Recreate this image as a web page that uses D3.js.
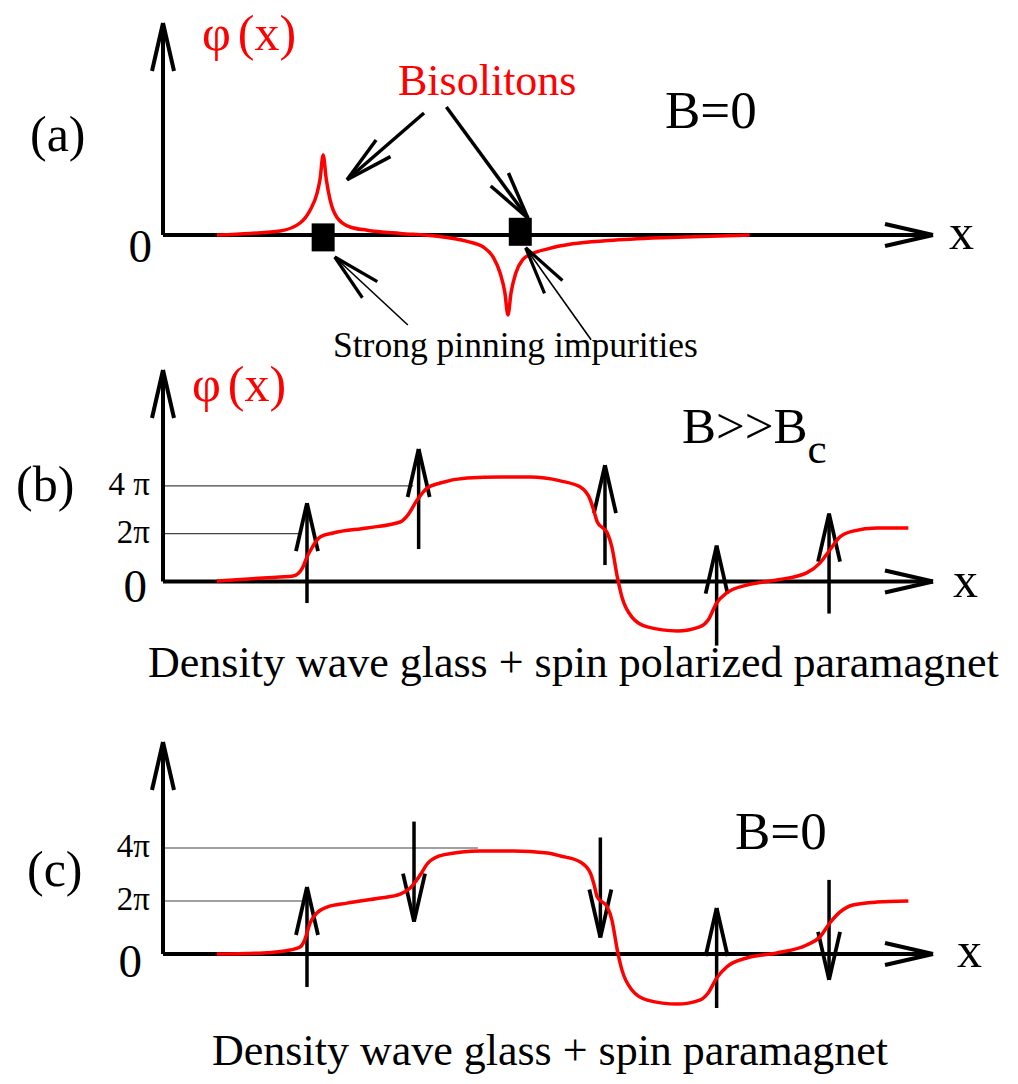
<!DOCTYPE html>
<html><head><meta charset="utf-8">
<script src="https://cdn.jsdelivr.net/npm/d3@7"></script>
<style>
html,body{margin:0;padding:0;background:#fff;}
svg{display:block;background:#fff;}
text{font-family:"Liberation Serif","Times New Roman",Times,serif;}
</style></head><body>
<svg id="chart" width="1018" height="1084"></svg>
<script>
// ================= DATA =================
// position along the x axis (0..100); phi in arbitrary units (a) or in units of pi (b, c)
const xDomain = [0, 100];

const curveA = [[7.0,0],[11.3,0.02],[15.2,0.05],[17.8,0.15],[19.1,0.31],[20.0,0.52],[20.4,0.70],[20.8,1.0],
  [21.2,0.70],[21.7,0.44],[22.6,0.22],[24.3,0.10],[26.5,0.06],[30.8,0.02],[35.1,-0.01],[39.5,-0.08],
  [41.6,-0.15],[42.9,-0.28],[43.8,-0.48],[44.4,-0.72],[44.8,-1.0],[45.2,-0.72],[45.8,-0.48],[46.8,-0.30],
  [47.8,-0.24],[50.1,-0.17],[53.2,-0.11],[57.9,-0.07],[64.8,-0.035],[71.0,-0.015],[76.2,0]];

const curveB = [[7.0,0.02],[13.0,0.15],[16.9,0.23],[18.1,0.56],[18.7,1.03],[19.4,1.44],[20.4,1.86],[22.1,2.03],
  [26.5,2.24],[30.8,2.49],[31.8,2.78],[33.0,3.41],[34.3,3.91],[36.0,4.12],[39.5,4.33],[43.8,4.37],[47.7,4.37],
  [51.6,4.21],[54.2,3.95],[55.5,3.41],[56.0,2.91],[56.4,2.49],[57.7,2.03],[58.3,1.44],[59.0,0.19],[59.6,-0.65],
  [60.9,-1.49],[62.9,-1.90],[66.8,-2.07],[69.7,-1.90],[70.8,-1.61],[71.9,-0.90],[73.2,-0.48],[75.8,-0.15],
  [79.7,0.06],[83.6,0.36],[85.3,0.77],[86.6,1.32],[87.9,1.86],[89.6,2.11],[92.7,2.24],[96.8,2.24]];

const curveC = [[7.0,0],[13.0,0.04],[16.5,0.15],[17.8,0.26],[18.4,0.53],[19.1,1.17],[20.0,1.55],[21.3,1.77],
  [23.9,1.92],[28.2,2.11],[30.8,2.26],[32.1,2.49],[33.4,2.98],[34.4,3.43],[36.4,3.74],[41.2,3.89],[45.5,3.89],
  [49.9,3.81],[51.6,3.70],[54.2,3.47],[55.5,3.06],[56.0,2.60],[56.4,2.15],[57.7,1.77],[58.3,1.28],[59.0,0.15],
  [59.6,-0.60],[60.9,-1.36],[62.9,-1.74],[66.8,-1.89],[69.7,-1.74],[70.8,-1.47],[71.9,-0.91],[73.2,-0.49],
  [75.8,-0.15],[79.7,0.04],[83.6,0.34],[85.3,0.64],[86.6,1.17],[87.9,1.58],[89.6,1.85],[92.7,1.96],[96.8,2.0]];

// strong pinning impurities (panel a)
const pinsA = [[20.8,-0.03],[46.4,0.04]];
// annotation arrows [from, to]
const bisolitonArrows = [[[33.9,1.525],[23.9,0.69]], [[36.8,1.6],[47.4,0.21]]];
const pinArrows = [[[31.8,-1.125],[22.3,-0.275]], [[55.6,-1.31],[47.1,-0.16]]];

// spins: [x, centre (phi/pi), direction +1 up / -1 down]
const spinsB = [[18.7,1.19,1],[33.2,3.45,1],[57.4,2.78,1],[71.9,-0.59,1],[86.5,0.75,1]];
const spinsC = [[18.7,0.64,1],[32.6,3.11,-1],[56.8,2.51,-1],[71.9,-0.15,1],[86.5,0.91,-1]];

// reference levels (units of pi) and where their guide lines end
const refLevels = [2, 4];
const refEndsB = [17.8, 32.5];
const refEndsC = [18.7, 40.9];
const tickLabelsB = ["2π", "4 π"];
const tickLabelsC = ["2π", "4π"];

const panelLabels = ["(a)", "(b)", "(c)"];
const captions = ["Density wave glass + spin polarized paramagnet", "Density wave glass + spin paramagnet"];

// ================= LAYOUT =================
const W = 1018, H = 1084;
const panels = [
  {base:235,   unitPx:80,   tipY:23,  label:[30,151],  zero:[152,262], phi:[202,50],  xl:[949,249]},
  {base:581.5, unitPx:23.9, tipY:370, label:[16,501],  zero:[147,602], phi:[192,401], xl:[953,597]},
  {base:954,   unitPx:26.5, tipY:742, label:[27,886],  zero:[142,977], phi:null,      xl:[957,967]}
];
const x = d3.scaleLinear().domain(xDomain).range([163, 933]);
panels.forEach(p => { p.y = d3.scaleLinear().domain([0,1]).range([p.base, p.base - p.unitPx]); });

const RED = "#ff0000";
const svg = d3.select("#chart");
svg.append("rect").attr("width", W).attr("height", H).attr("fill", "#fff");

function chevron(g, tip, dir, len, half, sw) {
  const n = Math.hypot(dir[0], dir[1]);
  const ux = dir[0]/n, uy = dir[1]/n, px = -uy, py = ux;
  [1,-1].forEach(s => {
    g.append("line")
      .attr("x1", tip[0]).attr("y1", tip[1])
      .attr("x2", tip[0] - len*ux + s*half*px).attr("y2", tip[1] - len*uy + s*half*py)
      .attr("stroke", "#000").attr("stroke-width", sw).attr("stroke-linecap", "butt");
  });
}
function arrow(g, from, to, sw, headSw) {
  g.append("line").attr("x1", from[0]).attr("y1", from[1]).attr("x2", to[0]).attr("y2", to[1])
    .attr("stroke", "#000").attr("stroke-width", sw);
  chevron(g, to, [to[0]-from[0], to[1]-from[1]], 48, 11, headSw);
}
function txt(g, s, xx, yy, size, opts = {}) {
  return g.append("text").attr("x", xx).attr("y", yy).attr("font-size", size)
    .attr("fill", opts.fill || "#000").attr("text-anchor", opts.anchor || "start").text(s);
}
const line = y => d3.line().x(d => x(d[0])).y(d => y(d[1])).curve(d3.curveMonotoneX);

// ---- panel frames ----
panels.forEach((p, i) => {
  const g = svg.append("g");
  arrow(g, [x(0), p.base], [x(0), p.tipY], 4, 4);
  arrow(g, [x(0), p.base], [x(100), p.base], 4, 4);
  txt(g, panelLabels[i], p.label[0], p.label[1], 50);
  txt(g, "0", p.zero[0], p.zero[1], 47, {anchor:"end"});
  txt(g, "x", p.xl[0], p.xl[1], 50);
  if (p.phi) {
    const t = g.append("text").attr("x", p.phi[0]).attr("y", p.phi[1]).attr("font-size", 50).attr("fill", RED);
    t.append("tspan").text("φ");
    t.append("tspan").attr("dx", 7).text("(x)");
  }
  p.g = g;
});

// ---- panel (a) ----
{
  const p = panels[0], g = p.g, y = p.y;
  g.append("path").datum(curveA).attr("d", line(y)).attr("fill", "none")
    .attr("stroke", RED).attr("stroke-width", 3.5);
  g.selectAll("rect.pin").data(pinsA).join("rect").attr("class", "pin")
    .attr("x", d => x(d[0]) - 11.5).attr("y", d => y(d[1]) - 14).attr("width", 23).attr("height", 28)
    .attr("fill", "#000");
  bisolitonArrows.forEach(a => arrow(g, [x(a[0][0]), y(a[0][1])], [x(a[1][0]), y(a[1][1])], 3.5, 3.5));
  pinArrows.forEach(a => arrow(g, [x(a[0][0]), y(a[0][1])], [x(a[1][0]), y(a[1][1])], 1.6, 3.2));
  txt(g, "Bisolitons", 398, 95, 44, {fill:RED});
  txt(g, "B=0", 665, 128, 53);
  txt(g, "Strong pinning impurities", 333, 357, 35.5);
}

// ---- panels (b) and (c) ----
[[1, curveB, spinsB, refEndsB, tickLabelsB], [2, curveC, spinsC, refEndsC, tickLabelsC]].forEach(([i, data, spins, ends, labels]) => {
  const p = panels[i], g = p.g, y = p.y;
  const ref = g.insert("g", ":first-child");
  refLevels.forEach((lv, k) => {
    ref.append("line").attr("x1", x(0)).attr("x2", x(ends[k])).attr("y1", y(lv)).attr("y2", y(lv))
      .attr("stroke", "#444").attr("stroke-width", 1.2);
    txt(g, labels[k], 150, y(lv) + 9, 33, {anchor:"end"});
  });
  spins.forEach(s => {
    const cx = x(s[0]), cy = y(s[1]);
    const from = [cx, cy + s[2]*50], to = [cx, cy - s[2]*50];
    arrow(g, from, to, 3.5, 3.8);
  });
  g.append("path").datum(data).attr("d", line(y)).attr("fill", "none")
    .attr("stroke", RED).attr("stroke-width", 3.5);
});

// field labels & captions
{
  const g = panels[1].g;
  const t = g.append("text").attr("x", 682).attr("y", 443).attr("font-size", 51);
  t.append("tspan").text("B>>B");
  t.append("tspan").attr("font-size", 43).attr("dy", 20).text("c");
  txt(g, captions[0], 148, 677, 44);
}
{
  const g = panels[2].g;
  txt(g, "B=0", 735, 849, 53);
  txt(g, captions[1], 212, 1065, 44);
}
</script>
</body></html>
